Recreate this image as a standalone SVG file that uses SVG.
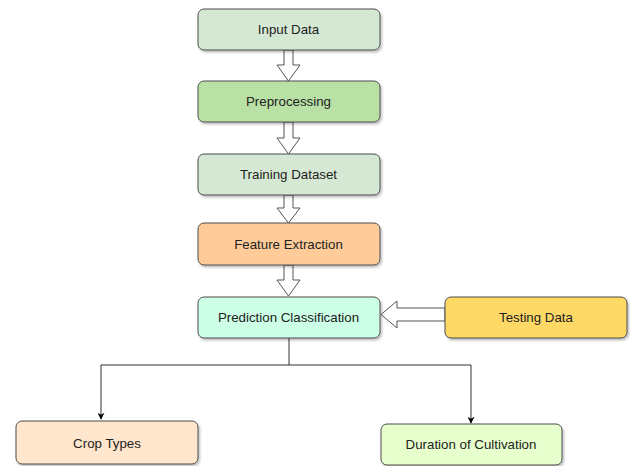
<svg xmlns="http://www.w3.org/2000/svg" width="630" height="466" viewBox="0 0 630 466">
<defs>
<filter id="sh" x="-10%" y="-10%" width="130%" height="140%">
<feDropShadow dx="1.5" dy="2" stdDeviation="1.2" flood-color="#000" flood-opacity="0.25"/>
</filter>
<marker id="ah" viewBox="0 0 10 10" refX="9" refY="5" markerWidth="7" markerHeight="7" orient="auto" markerUnits="userSpaceOnUse">
<path d="M0,0 L10,5 L0,10 L3,5 Z" fill="#000"/>
</marker>
<style>
.box{stroke:#4d4d4d;stroke-width:1;filter:url(#sh)}
.lbl{font-family:"Liberation Sans",Arial,sans-serif;font-size:13.3px;fill:#222;text-anchor:middle;dominant-baseline:central}
.blk{fill:#fff;stroke:#555;stroke-width:1}
.ln{fill:none;stroke:#333;stroke-width:1}
</style>
</defs>
<rect width="630" height="466" fill="#fff"/>
<g id="connectors">
<polygon class="blk" points="284,50 293,50 293,65 300,65 288.5,81 277,65 284,65"/>
<polygon class="blk" points="284,122 293,122 293,138 300,138 288.5,154 277,138 284,138"/>
<polygon class="blk" points="284,195 293,195 293,208 300,208 288.5,223 277,208 284,208"/>
<polygon class="blk" points="284,265 293,265 293,280 300,280 288.5,296 277,280 284,280"/>
<polygon class="blk" points="445,311 397,311 397,304 381,317.5 397,331 397,324 445,324" transform="translate(0,-3)"/>
<path class="ln" d="M289,338 V365 H101 V419" marker-end="url(#ah)"/>
<path class="ln" d="M289,365 H471 V423" marker-end="url(#ah)"/>
</g>
<g id="input-data"><rect class="box" x="198" y="9" width="182" height="41" rx="6" fill="#d5e8d4"/><text class="lbl" x="288.5" y="29.5">Input Data</text></g>
<g id="preprocessing"><rect class="box" x="198" y="81" width="182" height="41" rx="6" fill="#b9e0a5"/><text class="lbl" x="288.5" y="101.5">Preprocessing</text></g>
<g id="training-dataset"><rect class="box" x="198" y="154" width="182" height="41" rx="6" fill="#d5e8d4"/><text class="lbl" x="288.5" y="174.5">Training Dataset</text></g>
<g id="feature-extraction"><rect class="box" x="198" y="223" width="182" height="42" rx="6" fill="#ffcc99"/><text class="lbl" x="288.5" y="244">Feature Extraction</text></g>
<g id="prediction-classification"><rect class="box" x="198" y="297" width="182" height="41" rx="6" fill="#ccffe6"/><text class="lbl" x="288.5" y="317.5">Prediction Classification</text></g>
<g id="testing-data"><rect class="box" x="445" y="297" width="182" height="41" rx="6" fill="#ffd966"/><text class="lbl" x="536" y="317.5">Testing Data</text></g>
<g id="crop-types"><rect class="box" x="16" y="421" width="182" height="43" rx="6" fill="#ffe6cc"/><text class="lbl" x="107" y="443">Crop Types</text></g>
<g id="duration-of-cultivation"><rect class="box" x="381" y="424" width="181" height="41" rx="6" fill="#e6ffcc"/><text class="lbl" x="471" y="444.5">Duration of Cultivation</text></g>
</svg>
